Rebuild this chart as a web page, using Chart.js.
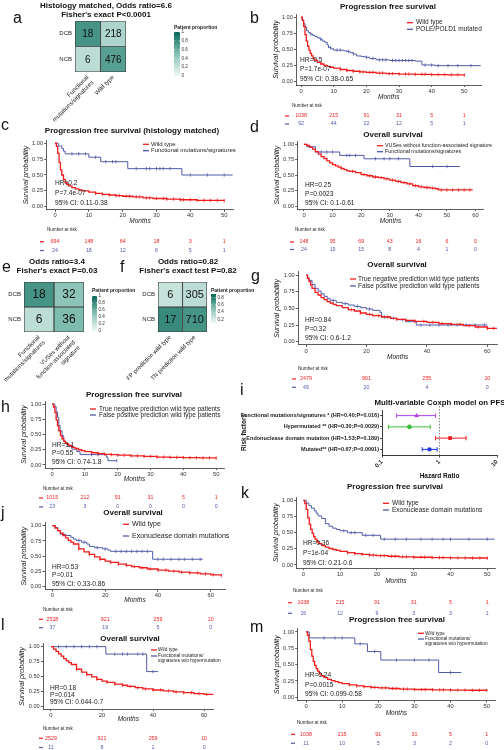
<!DOCTYPE html>
<html>
<head>
<meta charset="utf-8">
<script src="https://cdn.jsdelivr.net/npm/chart.js@4.4.1/dist/chart.umd.min.js"></script>
<style>
  body { margin: 0; background: #fff; width: 504px; height: 750px; overflow: hidden; position: relative; }
  canvas { position: absolute; left: 0; top: 0; }
</style>
</head>
<body>
<script>
// ---------- data ----------

// heatmaps (a, e, f): counts of DCB / NCB per group
const heatACols = [["Functional", "mutations/signatures"], "Wild type"];
const heatADcb = [18, 218];
const heatANcb = [6, 476];
const heatECols = [["Functional", "mutations/signatures"], ["VUSes without", "function-associated", "signature"]];
const heatEDcb = [18, 32];
const heatENcb = [6, 36];
const heatFCols = ["FP prediction wild type", "TN prediction wild type"];
const heatFDcb = [6, 305];
const heatFNcb = [17, 710];

// KM curves as [month, survival]
const pfsWildType = [[0,1],[0.4,0.95],[0.8,0.86],[1.2,0.73],[1.6,0.63],[2,0.55],[2.4,0.49],[2.8,0.44],[3.2,0.4],[3.7,0.36],[4.2,0.33],[5,0.3],[6,0.275],[7,0.255],[8,0.24],[9,0.225],[10,0.21],[12,0.19],[14,0.175],[16,0.163],[18,0.153],[20,0.145],[23,0.135],[26,0.127],[30,0.12],[35,0.115],[40,0.11],[45,0.108],[50,0.105]];
const pfsWtCensor = [12,14,16,18,19,21,22,24,25,27,28,30,32,33,35,37,38,40,42,44,46,48,50];
const pfsPoleMut = [[0,1],[0.3,0.96],[0.7,0.9],[1.2,0.85],[1.7,0.79],[2.3,0.76],[2.8,0.74],[3.5,0.72],[4.3,0.7],[5,0.68],[5.8,0.66],[6.5,0.63],[7.3,0.61],[8,0.57],[8.4,0.53],[9.2,0.51],[10,0.49],[13,0.48],[14,0.47],[15,0.45],[16,0.43],[17,0.4],[18.5,0.39],[19.6,0.38],[21,0.36],[23,0.34],[27,0.33],[35,0.32],[37,0.26],[41,0.25],[55,0.25]];
const pfsPoleCensor = [3,6,9,11,12,14.5,16,20,22,24,25,26,28,29,30,31,32,33,34,38,40,42,45,48,52];

const pfsHistWt = [[0,1],[0.4,0.95],[0.8,0.84],[1.2,0.7],[1.6,0.58],[2,0.5],[2.5,0.43],[3,0.38],[3.5,0.35],[4,0.33],[5,0.3],[6,0.28],[7,0.265],[8,0.25],[10,0.23],[12,0.21],[14,0.195],[16,0.185],[18,0.175],[20,0.165],[23,0.155],[26,0.14],[29,0.13],[33,0.12],[37,0.11],[42,0.1],[50,0.095]];
const pfsHistFunc = [[0,1],[1,0.958],[2,0.917],[2.5,0.875],[3,0.833],[10,0.78],[13.5,0.71],[21.5,0.6],[37.5,0.5],[52.5,0.5]];
const pfsHistFuncCensor = [5,7,9,12,15,17,18,24,27,28,30,31,32,34,40,45,50];

const osVus = [[0,1],[1,0.98],[2,0.95],[3,0.92],[4,0.88],[5,0.84],[6,0.8],[7,0.77],[8,0.73],[9,0.7],[10,0.67],[11,0.65],[12,0.63],[13,0.61],[14,0.59],[15,0.57],[16,0.56],[18,0.54],[20,0.51],[22,0.49],[24,0.47],[26,0.46],[28,0.44],[30,0.42],[32,0.4],[34,0.38],[36,0.36],[38,0.33],[40,0.31],[42,0.3],[44,0.29],[46,0.28],[47,0.26],[59,0.26]];
const osVusCensor = [13,17,21,23,25,27,29,31,33,35,37,39,41,43,45,48,50,52,54,56,58];
const osFunc = [[0,1],[1,0.96],[4,0.875],[12.5,0.82],[21,0.765],[37,0.64],[54.5,0.64]];
const osFuncCensor = [6,8,10,15,16,18,25,28,30,33,45,50];

const osTn = [[0,1],[0.5,0.95],[1,0.9],[1.5,0.85],[2,0.8],[3,0.74],[4,0.7],[5,0.66],[6,0.63],[7,0.6],[8,0.58],[9,0.56],[10,0.54],[12,0.51],[14,0.48],[16,0.46],[18,0.43],[20,0.41],[22,0.39],[25,0.37],[28,0.35],[30,0.335],[33,0.32],[36,0.305],[40,0.29],[44,0.27],[48,0.26],[52,0.24],[56,0.22],[60,0.2],[63,0.19]];
const osTnCensor = [15,18,21,24,27,30,33,36,39,42,45,48,51,54,57,60,62];
const osFp = [[0,1],[0.5,0.96],[1,0.92],[2,0.86],[3,0.8],[4,0.76],[5,0.72],[6,0.68],[7,0.65],[8,0.62],[10,0.59],[12,0.57],[14,0.55],[16,0.53],[18,0.51],[20,0.49],[22,0.47],[24.5,0.44],[25,0.37],[28,0.35],[30,0.33],[33,0.3],[36.5,0.25],[60,0.25]];
const osFpCensor = [9,13,17,21,26,29,32,38,41,44,47,50,53,56,59];

const pfsTn = [[0,1],[0.4,0.95],[0.8,0.86],[1.2,0.74],[1.6,0.64],[2,0.56],[2.5,0.48],[3,0.43],[3.5,0.39],[4,0.36],[4.5,0.34],[5,0.32],[6,0.29],[7,0.27],[8,0.25],[9,0.235],[10,0.22],[12,0.2],[14,0.185],[16,0.175],[18,0.17],[20,0.16],[24,0.15],[28,0.14],[32,0.13],[36,0.125],[40,0.12],[45,0.115],[50,0.11]];
const pfsTnCensor = [12,14,16,18,20,22,24,26,28,30,32,34,36,38,40,42,44,46,48,50];
const pfsFp = [[0,1],[0.8,0.957],[1.2,0.87],[1.6,0.78],[2,0.65],[2.4,0.56],[3,0.48],[3.5,0.39],[4,0.35],[5,0.3],[6,0.26],[7.5,0.22],[8.5,0.17],[16.5,0.13],[17,0.07],[19.7,0.07]];
const pfsFpCensor = [12,14,19.7];

const osWildType = [[0,1],[1,0.96],[2,0.92],[3,0.88],[4,0.84],[5,0.8],[6,0.76],[7,0.73],[8,0.7],[10,0.62],[12,0.57],[14,0.53],[16,0.49],[18,0.45],[20,0.42],[22,0.4],[25,0.37],[28,0.35],[30,0.33],[33,0.31],[36,0.29],[40,0.27],[44,0.255],[48,0.24],[52,0.225],[56,0.21],[60,0.195],[64,0.18]];
const osWtCensor = [10,14,18,22,25,28,31,34,37,40,43,46,49,52,55,58,61,64];
const osExo = [[0,1],[1,0.97],[2,0.92],[3,0.86],[5,0.84],[7,0.81],[8,0.78],[9,0.76],[11,0.73],[13,0.7],[14,0.66],[16,0.64],[19,0.62],[21,0.6],[22,0.58],[38,0.45],[57,0.45]];
const osExoCensor = [4,10,12,17,20,24,26,28,30,32,34,36,40,42,45,48,50,53,56];

const pfsExo = [[0,1],[0.8,0.96],[1.5,0.92],[2.2,0.88],[3,0.84],[3.5,0.8],[4,0.76],[5,0.72],[6,0.64],[7,0.6],[8,0.57],[9,0.55],[10,0.53],[12,0.5],[16,0.46],[21,0.4],[52,0.4]];
const pfsExoCensor = [11,13,14,17,19,22,25,28,32,35,38,40,45,50];

const osFuncNoHyper = [[0,1],[21.5,0.875],[37.5,0.58],[42,0.58]];
const osFuncNoHyperCensor = [3,6,9,12,15,18,25,28,30,34,36,40];
const pfsFuncNoHyper = [[0,1],[0.9,0.909],[13.5,0.818],[17,0.7],[20.7,0.57],[36.7,0.38],[43,0.38]];
const pfsFuncNoHyperCensor = [5,8,10,15,19,25,30,34,40];

// risk tables
const months50 = [0, 10, 20, 30, 40, 50];
const months60 = [0, 10, 20, 30, 40, 50, 60];
const months60by20 = [0, 20, 40, 60];
const riskB = [[1038, 215, 91, 31, 5, 1], [92, 44, 22, 12, 5, 1]];
const riskC = [[694, 148, 64, 18, 3, 1], [24, 18, 12, 6, 5, 1]];
const riskD = [[148, 95, 69, 43, 16, 6, 0], [24, 19, 15, 8, 4, 1, 0]];
const riskG = [[2479, 901, 255, 10], [49, 20, 4, 0]];
const riskH = [[1015, 212, 91, 31, 5, 1], [23, 3, 0, 0, 0, 0]];
const riskJ = [[2528, 921, 259, 10], [37, 19, 5, 0]];
const riskK = [[1038, 215, 91, 31, 5, 1], [26, 12, 9, 3, 3, 1]];
const riskL = [[2529, 921, 259, 10], [11, 8, 1, 0]];
const riskM = [[1038, 215, 91, 31, 5, 1], [11, 10, 5, 3, 2, 0]];

// forest plot (i)
const riskFactors = [
  "Functional mutations/signatures * (HR=0.40;P=0.016)",
  "Hypermutated ** (HR=0.30;P=0.0029)",
  "Endonuclease domain mutation (HR=1.53;P=0.189)",
  "Mutated** (HR=0.67;P=0.0091)",
];
const hazardRatios = [0.40, 0.30, 1.53, 0.67];
const ciLower = [0.18, 0.13, 0.85, 0.50];
const ciUpper = [0.85, 0.69, 2.9, 0.91];

// ---------- drawing ----------
const W = 504, H = 750;
const RED = "#f21c1c", BLUE = "#4f5ba8";
const FONT = "'Liberation Sans', Arial, Helvetica, sans-serif";

Chart.defaults.font.family = FONT;
Chart.defaults.color = "#222";
Chart.defaults.animation = false;
Chart.defaults.events = [];
Chart.defaults.plugins.legend.display = false;
Chart.defaults.plugins.tooltip.enabled = false;

function makeCanvas() {
  const c = document.createElement("canvas");
  c.width = W;
  c.height = H;
  document.body.appendChild(c);
  return c;
}

function txt(ctx, s, x, y, o = {}) {
  ctx.save();
  ctx.font = `${o.style || "normal"} ${o.weight || "normal"} ${o.size || 7}px ${FONT}`;
  ctx.fillStyle = o.color || "#222";
  ctx.textAlign = o.align || "left";
  ctx.textBaseline = o.baseline || "middle";
  ctx.fillText(s, x, y);
  ctx.restore();
}

function seg(ctx, x0, x1, y, color, w) {
  ctx.save();
  ctx.strokeStyle = color;
  ctx.lineWidth = w;
  ctx.beginPath();
  ctx.moveTo(x0, y);
  ctx.lineTo(x1, y);
  ctx.stroke();
  ctx.restore();
}

function letter(ctx, l) {
  txt(ctx, l[0], l[1], l[2], { size: 16, baseline: "alphabetic", color: "#111" });
}

function zeroPad(s) {
  s.paddingLeft = 0; s.paddingRight = 0; s.paddingTop = 0; s.paddingBottom = 0;
}

function survAt(curve, t) {
  let s = curve[0][1];
  for (const [x, y] of curve) {
    if (x <= t) s = y; else break;
  }
  return s;
}

const tealStops = [[240, 248, 246], [134, 193, 180], [4, 102, 86]];
function tealAt(v) {
  v = Math.max(0, Math.min(1, v));
  const k = v < 0.5 ? 0 : 1;
  const f = (v - k * 0.5) / 0.5;
  const a = tealStops[k], b = tealStops[k + 1];
  return `rgb(${a.map((c, i) => Math.round(c + (b[i] - c) * f)).join(",")})`;
}

function kmPanel(p) {
  const [l, r, t, b] = p.area;
  const yW = 25;
  const xH = p.monthsY + 3.9 - b;
  const datasets = [];
  p.curves.forEach((c) => {
    datasets.push({
      data: c.data.map(([x, y]) => ({ x, y })),
      borderColor: c.color,
      borderWidth: c.color === RED ? 1.3 : 1,
      pointRadius: 0,
      stepped: true,
      fill: false,
    });
    if (c.censor) {
      datasets.push({
        data: c.censor.map((x) => ({ x, y: survAt(c.data, x) })),
        showLine: false,
        pointStyle: "line",
        rotation: 90,
        pointRadius: 1.7,
        borderColor: c.color,
        borderWidth: 0.8,
      });
    }
  });

  new Chart(makeCanvas(), {
    type: "line",
    data: { datasets },
    options: {
      responsive: false,
      devicePixelRatio: 1,
      layout: { autoPadding: false, padding: { left: l - yW, right: W - r, top: t, bottom: H - b - xH } },
      scales: {
        x: {
          type: "linear",
          min: p.xMin,
          max: p.xMax,
          afterBuildTicks: (s) => { s.ticks = p.xTicks.map((v) => ({ value: v })); },
          afterFit: (s) => { s.height = xH; zeroPad(s); },
          ticks: { font: { size: 5.8 }, color: "#333", padding: 0.5, maxRotation: 0 },
          grid: { drawOnChartArea: false, tickLength: 2, color: "#333", lineWidth: 0.8 },
          border: { color: "#333", width: 0.8 },
          title: { display: true, text: "Months", font: { size: 6.5, style: "italic" }, padding: 0, color: "#222" },
        },
        y: {
          type: "linear",
          min: -0.05,
          max: 1.05,
          afterBuildTicks: (s) => { s.ticks = [0, 0.25, 0.5, 0.75, 1].map((v) => ({ value: v })); },
          afterFit: (s) => { s.width = yW; zeroPad(s); },
          ticks: { callback: (v) => Number(v).toFixed(2), font: { size: 5.6 }, color: "#333", padding: 1.2 },
          grid: { drawOnChartArea: false, tickLength: 2.5, color: "#333", lineWidth: 0.8 },
          border: { color: "#333", width: 0.8 },
          title: { display: true, text: "Survival probability", font: { size: 7, style: "italic" }, padding: 0, color: "#222" },
        },
      },
    },
    plugins: [{
      id: "kmExtras",
      afterDraw(chart) {
        const ctx = chart.ctx;
        const xs = chart.scales.x;
        letter(ctx, p.letter);
        txt(ctx, p.title[0], p.title[1], p.title[2], { size: 8, weight: "bold", align: "center", color: "#111" });
        const lg = p.legend;
        lg.items.forEach((it) => {
          seg(ctx, lg.x, lg.x + 6, it.y, it.color, 1.3);
          it.lines.forEach((s, k) => txt(ctx, s, lg.x + lg.dx, it.y + k * lg.size * 0.95, { size: lg.size }));
        });
        p.stats.lines.forEach((s, k) => txt(ctx, s, p.stats.x, p.stats.y[k], { size: 6.6 }));
        const rk = p.risk;
        txt(ctx, "Number at risk", rk.labelX, rk.labelY, { size: 4.6 });
        rk.rows.forEach((row, k) => {
          const color = p.curves[k].color;
          seg(ctx, rk.dashX, rk.dashX + 4, rk.rowsY[k], color, 1.2);
          row.forEach((n, j) => {
            txt(ctx, String(n), xs.getPixelForValue(rk.times[j]), rk.rowsY[k], { size: 5.3, color, align: "center" });
          });
        });
      },
    }],
  });
}

function heatPanel(h) {
  const [l, r, t, b] = h.area;
  const props = h.dcb.map((d, i) => [d / (d + h.ncb[i]), h.ncb[i] / (d + h.ncb[i])]);
  const norm = (v) => (v - h.lo) / (h.hi - h.lo);
  const cell = { barPercentage: 1, categoryPercentage: 1, grouped: false, borderWidth: 0.9, borderColor: "#3a3a3a", borderSkipped: false };

  new Chart(makeCanvas(), {
    type: "bar",
    data: {
      labels: h.cols,
      datasets: [
        { ...cell, data: h.dcb.map(() => [1, 2]), backgroundColor: props.map((p) => tealAt(norm(p[0]))) },
        { ...cell, data: h.ncb.map(() => [0, 1]), backgroundColor: props.map((p) => tealAt(norm(p[1]))) },
      ],
    },
    options: {
      responsive: false,
      devicePixelRatio: 1,
      layout: { autoPadding: false, padding: { left: l - h.yW, right: W - r, top: t, bottom: H - b - 60 } },
      scales: {
        x: {
          offset: true,
          grid: { display: false, drawTicks: false },
          border: { display: false },
          ticks: { font: { size: 6 }, color: "#222", minRotation: 45, maxRotation: 45, autoSkip: false, padding: 2 },
          afterFit: (s) => { s.height = 60; zeroPad(s); },
        },
        y: {
          min: 0,
          max: 2,
          grid: { display: false, drawTicks: false },
          border: { display: false },
          afterBuildTicks: (s) => { s.ticks = [{ value: 0.5 }, { value: 1.5 }]; },
          ticks: { callback: (v) => (v > 1 ? "DCB" : "NCB"), font: { size: 6 }, color: "#222", padding: 3 },
          afterFit: (s) => { s.width = h.yW; zeroPad(s); },
        },
      },
    },
    plugins: [{
      id: "heatExtras",
      afterDatasetsDraw(chart) {
        const ctx = chart.ctx;
        [h.dcb, h.ncb].forEach((counts, di) => {
          chart.getDatasetMeta(di).data.forEach((el, i) => {
            txt(ctx, String(counts[i]), el.x, (el.y + el.base) / 2 + 0.5, { size: h.numSize, align: "center", color: "#111" });
          });
        });
      },
      afterDraw(chart) {
        const ctx = chart.ctx;
        letter(ctx, h.letter);
        h.title.forEach((s, k) => txt(ctx, s, h.titleX, h.titleY[k], { size: 8, weight: "bold", align: "center", color: "#111" }));
        const cb = h.bar;
        const g = ctx.createLinearGradient(0, cb.y1, 0, cb.y0);
        g.addColorStop(0, tealAt(0));
        g.addColorStop(0.5, tealAt(0.5));
        g.addColorStop(1, tealAt(1));
        ctx.fillStyle = g;
        ctx.fillRect(cb.x, cb.y0, cb.w, cb.y1 - cb.y0);
        txt(ctx, "Patient proportion", cb.x, cb.labelY, { size: 5, weight: "bold" });
        cb.ticks.forEach((v) => {
          const y = cb.y1 - ((v - h.lo) / (h.hi - h.lo)) * (cb.y1 - cb.y0);
          seg(ctx, cb.x, cb.x + 1.2, y, "#fff", 0.6);
          seg(ctx, cb.x + cb.w - 1.2, cb.x + cb.w, y, "#fff", 0.6);
          txt(ctx, String(v), cb.x + cb.w + 1.5, y, { size: 4.6, color: "#333" });
        });
      },
    }],
  });
}

// ---- a
heatPanel({
  cols: heatACols, dcb: heatADcb, ncb: heatANcb, lo: 0, hi: 1,
  area: [75, 126, 21, 72], yW: 25, numSize: 10,
  letter: ["a", 13, 23.3], title: ["Histology matched, Odds ratio=6.6", "Fisher's exact P<0.0001"], titleX: 106, titleY: [5.3, 14.3],
  bar: { x: 174, y0: 32, y1: 76, w: 6, labelY: 27.5, ticks: [1, 0.8, 0.6, 0.4, 0.2, 0] },
});
// ---- e
heatPanel({
  cols: heatECols, dcb: heatEDcb, ncb: heatENcb, lo: 0, hi: 1,
  area: [24, 84, 282, 332], yW: 16, numSize: 12,
  letter: ["e", 2, 271.5], title: ["Odds ratio=3.4", "Fisher's exact P=0.03"], titleX: 57, titleY: [262, 271],
  bar: { x: 92, y0: 296, y1: 331, w: 5, labelY: 291, ticks: [1, 0.8, 0.6, 0.4, 0.2, 0] },
});
// ---- f
heatPanel({
  cols: heatFCols, dcb: heatFDcb, ncb: heatFNcb, lo: 0.1, hi: 0.9,
  area: [158, 207, 282, 332], yW: 20, numSize: 11,
  letter: ["f", 120, 271.7], title: ["Odds ratio=0.82", "Fisher's exact test P=0.82"], titleX: 188, titleY: [262, 271],
  bar: { x: 211, y0: 294, y1: 323, w: 5, labelY: 291, ticks: [0.8, 0.6, 0.4, 0.2] },
});

// ---- b
kmPanel({
  area: [296.5, 481, 14, 85], xMin: -1.4, xMax: 55.1, xTicks: months50, monthsY: 96.7,
  letter: ["b", 250, 23.3], title: ["Progression free survival", 388, 7],
  legend: { x: 407, dx: 9, size: 6.5, items: [{ color: RED, lines: ["Wild type"], y: 22.7 }, { color: BLUE, lines: ["POLE/POLD1 mutated"], y: 29.3 }] },
  stats: { x: 300, y: [60, 69.5, 79], lines: ["HR=0.5", "P=1.7e-07", "95% CI: 0.38-0.65"] },
  risk: { labelX: 292, labelY: 106, dashX: 285, rowsY: [116, 124], times: months50, rows: riskB },
  curves: [{ data: pfsWildType, color: RED, censor: pfsWtCensor }, { data: pfsPoleMut, color: BLUE, censor: pfsPoleCensor }],
});
// ---- c
kmPanel({
  area: [46.7, 233.3, 140.1, 209.9], xMin: -2.46, xMax: 52.7, xTicks: months50, monthsY: 221,
  letter: ["c", 1, 130], title: ["Progression free survival (histology matched)", 132, 131],
  legend: { x: 143, dx: 8, size: 6, items: [{ color: RED, lines: ["Wild type"], y: 144.3 }, { color: BLUE, lines: ["Functional mutations/signatures"], y: 150.7 }] },
  stats: { x: 55, y: [183, 193, 203], lines: ["HR=0.2", "P=7.4e-07", "95% CI: 0.11-0.38"] },
  risk: { labelX: 47, labelY: 230, dashX: 40, rowsY: [241.7, 250.5], times: months50, rows: riskC },
  curves: [{ data: pfsHistWt, color: RED, censor: pfsWtCensor }, { data: pfsHistFunc, color: BLUE, censor: pfsHistFuncCensor }],
});
// ---- d
kmPanel({
  area: [297.7, 483.3, 141.2, 209.1], xMin: -2.2, xMax: 62.7, xTicks: months60, monthsY: 221,
  letter: ["d", 250, 132], title: ["Overall survival", 393, 135],
  legend: { x: 377, dx: 8, size: 5.4, items: [{ color: RED, lines: ["VUSes without function-associated signature"], y: 145.7 }, { color: BLUE, lines: ["Functional mutations/signatures"], y: 151.7 }] },
  stats: { x: 305, y: [185, 194, 203], lines: ["HR=0.25", "P=0.0023", "95% CI: 0.1-0.61"] },
  risk: { labelX: 295, labelY: 230, dashX: 290, rowsY: [242, 249.5], times: months60, rows: riskD },
  curves: [{ data: osVus, color: RED, censor: osVusCensor }, { data: osFunc, color: BLUE, censor: osFuncCensor }],
});
// ---- g
kmPanel({
  area: [298.3, 497, 271.7, 345], xMin: -2.55, xMax: 63.2, xTicks: months60by20, monthsY: 357.3,
  letter: ["g", 251, 281], title: ["Overall survival", 397, 265],
  legend: { x: 350, dx: 8, size: 6.5, items: [{ color: RED, lines: ["True negative prediction wild type patients"], y: 279 }, { color: BLUE, lines: ["False positive prediction wild type patients"], y: 286 }] },
  stats: { x: 305, y: [320, 329.5, 338.5], lines: ["HR=0.84", "P=0.32", "95% CI: 0.6-1.2"] },
  risk: { labelX: 298, labelY: 368.3, dashX: 292, rowsY: [379, 387.3], times: months60by20, rows: riskG },
  curves: [{ data: osTn, color: RED, censor: osTnCensor }, { data: osFp, color: BLUE, censor: osFpCensor }],
});
// ---- h
kmPanel({
  area: [45, 224, 401, 468], xMin: -2.2, xMax: 52.4, xTicks: months50, monthsY: 479,
  letter: ["h", 1, 411.7], title: ["Progression free survival", 134, 395],
  legend: { x: 90, dx: 9, size: 6.5, items: [{ color: RED, lines: ["True negative prediction wild type patients"], y: 409 }, { color: BLUE, lines: ["False positive prediction wild type patients"], y: 415 }] },
  stats: { x: 52, y: [445, 453.3, 461.7], lines: ["HR=1.1", "P=0.55", "95% CI: 0.74-1.8"] },
  risk: { labelX: 43, labelY: 488.3, dashX: 39, rowsY: [498, 507], times: months50, rows: riskH },
  curves: [{ data: pfsTn, color: RED, censor: pfsTnCensor }, { data: pfsFp, color: BLUE, censor: pfsFpCensor }],
});
// ---- j
kmPanel({
  area: [45, 225, 522.7, 589.7], xMin: -2.8, xMax: 65.4, xTicks: months60by20, monthsY: 600,
  letter: ["j", 1, 518], title: ["Overall survival", 133, 513],
  legend: { x: 123, dx: 9, size: 7, items: [{ color: RED, lines: ["Wild type"], y: 524.3 }, { color: BLUE, lines: ["Exonuclease domain mutations"], y: 536 }] },
  stats: { x: 52, y: [567.3, 575.5, 583.7], lines: ["HR=0.53", "P=0.01", "95% CI: 0.33-0.86"] },
  risk: { labelX: 43, labelY: 610, dashX: 39, rowsY: [619.3, 627.7], times: months60by20, rows: riskJ },
  curves: [{ data: osWildType, color: RED, censor: osWtCensor }, { data: osExo, color: BLUE, censor: osExoCensor }],
});
// ---- k
kmPanel({
  area: [296.7, 495, 497.2, 568.2], xMin: -1.8, xMax: 52.1, xTicks: months50, monthsY: 581,
  letter: ["k", 241, 498], title: ["Progression free survival", 395, 487],
  legend: { x: 383, dx: 9, size: 6.5, items: [{ color: RED, lines: ["Wild type"], y: 503.3 }, { color: BLUE, lines: ["Exonuclease domain mutations"], y: 510 }] },
  stats: { x: 303, y: [543.3, 552.7, 562.7], lines: ["HR=0.36", "P=1e-04", "95% CI: 0.21-0.6"] },
  risk: { labelX: 293, labelY: 591, dashX: 288, rowsY: [602.7, 613.3], times: months50, rows: riskK },
  curves: [{ data: pfsWildType, color: RED, censor: pfsWtCensor }, { data: pfsExo, color: BLUE, censor: pfsExoCensor }],
});
// ---- l
kmPanel({
  area: [43.3, 213.3, 643.7, 709], xMin: -3.0, xMax: 63.6, xTicks: months60by20, monthsY: 719.3,
  letter: ["l", 1, 630], title: ["Overall survival", 130, 639],
  legend: { x: 151, dx: 7, size: 4.8, items: [{ color: RED, lines: ["Wild type"], y: 650 }, { color: BLUE, lines: ["Functional mutations/", "signatures w/o hypermutation"], y: 656 }] },
  stats: { x: 50, y: [687.7, 695, 702.3], lines: ["HR=0.18", "P=0.014", "95% CI: 0.044-0.7"] },
  risk: { labelX: 43, labelY: 728.3, dashX: 39, rowsY: [738.3, 747.5], times: months60by20, rows: riskL },
  curves: [{ data: osWildType, color: RED, censor: osWtCensor }, { data: osFuncNoHyper, color: BLUE, censor: osFuncNoHyperCensor }],
});
// ---- m
kmPanel({
  area: [297.7, 495, 628.7, 700.6], xMin: -2.3, xMax: 52.3, xTicks: months50, monthsY: 713.3,
  letter: ["m", 250, 632], title: ["Progression free survival", 397, 620],
  legend: { x: 418, dx: 7, size: 4.8, items: [{ color: RED, lines: ["Wild type"], y: 633.3 }, { color: BLUE, lines: ["Functional mutations/", "signatures w/o hypermutation"], y: 639 }] },
  stats: { x: 305, y: [675, 685, 694.3], lines: ["HR=0.24", "P=0.0015", "95% CI: 0.099-0.58"] },
  risk: { labelX: 297, labelY: 722.7, dashX: 291, rowsY: [734.3, 743.3], times: months50, rows: riskM },
  curves: [{ data: pfsWildType, color: RED, censor: pfsWtCensor }, { data: pfsFuncNoHyper, color: BLUE, censor: pfsFuncNoHyperCensor }],
});

// ---- i : forest plot
(function () {
  const colors = ["#b33ee6", "#3cbf3c", "#f01e1e", "#1e36e6"];
  const shapes = ["triangle", "circle", "rect", "rect"];
  const l = 382, r = 497, t = 410, b = 455, yW = 142, xH = 24.9;
  new Chart(makeCanvas(), {
    type: "scatter",
    data: {
      datasets: [{
        data: riskFactors.map((f, i) => ({ x: hazardRatios[i], y: f })),
        pointStyle: shapes,
        pointRadius: 2,
        backgroundColor: colors,
        borderColor: colors,
      }],
    },
    options: {
      responsive: false,
      devicePixelRatio: 1,
      layout: { autoPadding: false, padding: { left: l - yW, right: W - r, top: t, bottom: H - b - xH } },
      scales: {
        x: {
          type: "logarithmic",
          min: 0.1,
          max: 10,
          afterBuildTicks: (s) => { s.ticks = [0.1, 1, 10].map((v) => ({ value: v })); },
          afterFit: (s) => { s.height = xH; zeroPad(s); },
          ticks: { callback: (v) => String(v), minRotation: 45, maxRotation: 45, font: { size: 6, weight: "bold" }, color: "#222", padding: 1 },
          grid: { drawOnChartArea: false, tickLength: 2.5, color: "#222", lineWidth: 0.8 },
          border: { color: "#222", width: 0.9 },
          title: { display: true, text: "Hazard Ratio", font: { size: 6.5, weight: "bold" }, padding: 0, color: "#111" },
        },
        y: {
          type: "category",
          labels: riskFactors,
          offset: true,
          afterFit: (s) => { s.width = yW; zeroPad(s); },
          ticks: { font: { size: 5.5, weight: "bold" }, color: "#222", padding: 1, autoSkip: false },
          grid: { drawOnChartArea: false, tickLength: 2, color: "#222", lineWidth: 0.8 },
          border: { color: "#222", width: 0.9 },
          title: { display: true, text: "Risk factors", font: { size: 6.5, weight: "bold" }, padding: 0, color: "#111" },
        },
      },
    },
    plugins: [{
      id: "forestExtras",
      beforeDatasetsDraw(chart) {
        const ctx = chart.ctx;
        const xs = chart.scales.x;
        const x1 = xs.getPixelForValue(1);
        ctx.save();
        ctx.strokeStyle = "#666";
        ctx.lineWidth = 0.8;
        ctx.setLineDash([1.5, 1.5]);
        ctx.beginPath();
        ctx.moveTo(x1, t - 4);
        ctx.lineTo(x1, b);
        ctx.stroke();
        ctx.restore();
        chart.getDatasetMeta(0).data.forEach((el, i) => {
          const a = xs.getPixelForValue(ciLower[i]);
          const z = xs.getPixelForValue(ciUpper[i]);
          ctx.save();
          ctx.strokeStyle = colors[i];
          ctx.lineWidth = 1;
          ctx.beginPath();
          ctx.moveTo(a, el.y); ctx.lineTo(z, el.y);
          ctx.moveTo(a, el.y - 2.2); ctx.lineTo(a, el.y + 2.2);
          ctx.moveTo(z, el.y - 2.2); ctx.lineTo(z, el.y + 2.2);
          ctx.stroke();
          ctx.restore();
        });
      },
      afterDraw(chart) {
        const ctx = chart.ctx;
        letter(ctx, ["i", 240, 395]);
        txt(ctx, "Multi-variable Coxph model on PFS", 440, 403, { size: 7.8, weight: "bold", align: "center", color: "#111" });
      },
    }],
  });
})();
</script>
</body>
</html>
